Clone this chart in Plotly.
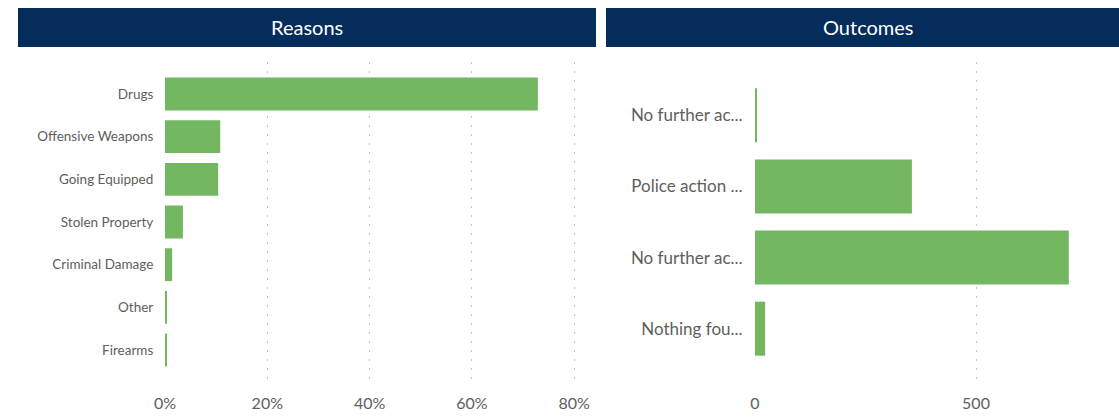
import plotly.graph_objects as go

W, H = 1119, 418

reason_labels = ["Drugs", "Offensive Weapons", "Going Equipped", "Stolen Property",
                 "Criminal Damage", "Other", "Firearms"]
reason_share = [0.729, 0.108, 0.104, 0.035, 0.014, 0.002, 0.002]

outcome_labels = ["No further ac...", "Police action ...", "No further ac...", "Nothing fou..."]
outcome_counts = [3, 355, 710, 23]

reason_ticks = [0, 0.2, 0.4, 0.6, 0.8]
outcome_ticks = [0, 500]

BAR = "#73B761"
NAVY = "#042D5B"
TXT = "#605E5C"
FONT = "Lato, 'Noto Sans', sans-serif"

def px_x(p):
    return p / W

def px_y(p):
    return 1 - p / H

fig = go.Figure()

fig.add_trace(go.Bar(
    x=reason_share, y=list(range(len(reason_labels))), orientation="h",
    marker=dict(color=BAR, line=dict(width=0)), width=0.77,
    xaxis="x", yaxis="y", hoverinfo="x+text", text=reason_labels, textposition="none",
))
fig.add_trace(go.Bar(
    x=outcome_counts, y=list(range(len(outcome_labels))), orientation="h",
    marker=dict(color=BAR, line=dict(width=0)), width=0.76,
    xaxis="x2", yaxis="y2", hoverinfo="x+text", text=outcome_labels, textposition="none",
))

ydom = [px_y(382), px_y(62)]

grid = dict(showgrid=True, gridcolor="#C4C4C4", griddash="2px,7px", gridwidth=1,
            zeroline=False, showline=False, ticks="outside", ticklen=7, automargin=False,
            tickcolor="rgba(0,0,0,0)", tickfont=dict(family=FONT, size=16, color=TXT))

ycommon = dict(showgrid=False, zeroline=False, showline=False, ticks="outside", ticklen=8,
               tickcolor="rgba(0,0,0,0)", automargin=False)

fig.update_layout(
    width=W, height=H, margin=dict(l=0, r=0, t=0, b=0, autoexpand=False),
    paper_bgcolor="white", plot_bgcolor="white", showlegend=False,
    xaxis=dict(domain=[px_x(165), px_x(589.5)], range=[0, 0.83], tickvals=reason_ticks,
               tickformat=".0%", anchor="y", **grid),
    yaxis=dict(domain=ydom, range=[len(reason_labels) - 0.25, -0.75],
               tickvals=list(range(len(reason_labels))), ticktext=reason_labels,
               tickfont=dict(family=FONT, size=13.5, color=TXT), anchor="x", **ycommon),
    xaxis2=dict(domain=[px_x(755), px_x(1108.6)], range=[0, 800], tickvals=outcome_ticks,
                anchor="y2", **grid),
    yaxis2=dict(domain=ydom, range=[len(outcome_labels) - 0.25, -0.75],
                tickvals=list(range(len(outcome_labels))), ticktext=outcome_labels,
                tickfont=dict(family=FONT, size=17, color=TXT), anchor="x2", **ycommon),
    bargap=0.23,
)

# header bars
for x0, x1, title, cx in [(18, 596, "Reasons", 307), (606, 1125, "Outcomes", 868)]:
    fig.add_shape(type="rect", xref="paper", yref="paper",
                  x0=px_x(x0), x1=px_x(x1), y0=px_y(47), y1=px_y(8),
                  fillcolor=NAVY, line=dict(width=0), layer="below")
    fig.add_annotation(xref="paper", yref="paper", x=px_x(cx), y=px_y(27.5),
                       text=title, showarrow=False, xanchor="center", yanchor="middle",
                       font=dict(family=FONT, size=20, color="white"))

fig.write_html("out.html", config={"displayModeBar": False},
               post_script="document.body.style.margin='0';document.body.style.overflow='hidden';")
